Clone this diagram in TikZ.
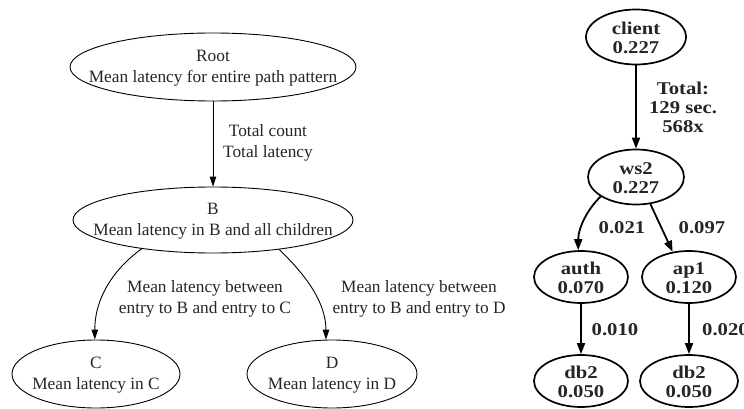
\documentclass[tikz,border=0pt]{standalone}
\usepackage{fontspec}
\setmainfont{Liberation Serif}
\newfontfamily\graphbold[FakeStretch=1.15]{Liberation Serif}
\usetikzlibrary{shapes.geometric,arrows.meta}

\begin{document}
\begin{tikzpicture}[x=1pt,y=-1pt,
  thinoval/.style={ellipse, draw, line width=0.9pt, inner sep=0pt},
  boldoval/.style={ellipse, draw, line width=1.7pt, inner sep=0pt},
  thinedge/.style={line width=0.9pt, -{Triangle[length=10pt,width=6.5pt]}},
  boldedge/.style={line width=1.8pt, -{Triangle[length=11pt,width=8pt]}},
  plaintext/.style={align=center, inner sep=0pt, text=black!85,
    font=\fontsize{17.3}{20.5}\selectfont},
  boldtext/.style={align=center, inner sep=0pt, text=black!85,
    font=\graphbold\bfseries\fontsize{18}{19}\selectfont}]

\fill[white] (0,0) rectangle (744,409);
\useasboundingbox (0,0) rectangle (744,409);

% ---------- generic path-pattern tree ----------
\node[thinoval, minimum width=286pt, minimum height=68pt] (root) at (213,67) {};
\node[plaintext] (rootT) at (213,68) {Root\\Mean latency for entire path pattern};

\node[thinoval, minimum width=280pt, minimum height=66pt] (B) at (213,220) {};
\node[plaintext] (BT) at (213,221) {B\\Mean latency in B and all children};

\node[thinoval, minimum width=168pt, minimum height=68pt] (C) at (96,374) {};
\node[plaintext] (CT) at (96,375) {C\\Mean latency in C};

\node[thinoval, minimum width=170pt, minimum height=68pt] (D) at (332,374) {};
\node[plaintext] (DT) at (332,375) {D\\Mean latency in D};

\draw[thinedge] (root.south) -- (B.north);
\node[plaintext] (rbL) at (268,143) {Total count\\Total latency};

\draw[thinedge] (B.202) .. controls +(-24,17) and +(0,-45) .. (C.92);
\node[plaintext] (bcL) at (205,299) {Mean latency between\\entry to B and entry to C};

\draw[thinedge] (B.336) .. controls +(13,13) and +(0,-45) .. (D.100);
\node[plaintext] (bdL) at (419,299) {Mean latency between\\entry to B and entry to D};

% ---------- measured example ----------
\node[boldoval, minimum width=100pt, minimum height=55pt] (client) at (636,37) {};
\node[boldtext] (clientT) at (636,38) {client\\0.227};

\node[boldoval, minimum width=96pt, minimum height=55pt] (ws2) at (636,177) {};
\node[boldtext] (ws2T) at (636,178) {ws2\\0.227};

\node[boldoval, minimum width=94pt, minimum height=52pt] (auth) at (581,277) {};
\node[boldtext] (authT) at (581,278) {auth\\0.070};

\node[boldoval, minimum width=94pt, minimum height=52pt] (ap1) at (689,277) {};
\node[boldtext] (ap1T) at (689,278) {ap1\\0.120};

\node[boldoval, minimum width=94pt, minimum height=52pt] (db2a) at (581,381) {};
\node[boldtext] (db2aT) at (581,382) {db2\\0.050};

\node[boldoval, minimum width=98pt, minimum height=52pt] (db2b) at (689,381) {};
\node[boldtext] (db2bT) at (689,382) {db2\\0.050};

\draw[boldedge] (client.south) -- (ws2.north);
\node[boldtext] (cwL) at (683,107) {Total:\\129 sec.\\568x};

\draw[boldedge] (ws2.209) .. controls +(-12,11) and +(0,-23) .. (auth.96);
\node[boldtext] (waL) at (622,228) {0.021};

\draw[boldedge] (ws2.298) -- (ap1.123);
\node[boldtext] (wpL) at (702,228) {0.097};

\draw[boldedge] (auth.south) -- (db2a.north);
\node[boldtext] (adL) at (615,330) {0.010};

\draw[boldedge] (ap1.south) -- (db2b.north);
\node[boldtext, anchor=west] (pdL) at (702,330) {0.020};
\end{tikzpicture}
\end{document}
